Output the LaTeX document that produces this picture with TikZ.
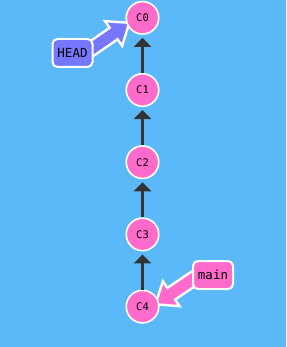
\documentclass[tikz,border=0pt]{standalone}
\usepackage{fontspec}
\setmonofont{DejaVu Sans Mono}
\usepackage{xcolor}
\usepackage{tikz}
\usetikzlibrary{arrows.meta, calc, positioning}

\definecolor{skyback}{HTML}{5CB9F9}
\definecolor{commitpink}{HTML}{FF6BCB}
\definecolor{headblue}{HTML}{7676FF}
\definecolor{linkgray}{HTML}{333333}

\tikzset{
	commit/.style={circle, fill=commitpink, draw=white, line width=1.6pt,
		minimum size=32.5pt, inner sep=0pt, font=\ttfamily\fontsize{10.5}{12}\selectfont},
	refbox/.style={rectangle, rounded corners=5pt, draw=white, line width=2pt,
		minimum width=40pt, minimum height=28pt, inner sep=0pt,
		font=\ttfamily\fontsize{12.5}{14}\selectfont},
	parentlink/.style={draw=linkgray, line width=2.6pt,
		-{Triangle[width=17pt,length=9pt]}, shorten >=3pt},
	refarrow/.style={draw=white, line width=2.4pt, line join=miter, fill=#1}
}

% block arrow of length #1 along the local x axis
\newcommand{\blockarrow}[2]{%
	\draw[refarrow=#2] (0,-7) -- ({#1-19},-7) -- ({#1-19},-15) -- (#1,0)
		-- ({#1-19},15) -- ({#1-19},7) -- (0,7) -- cycle;
}

\begin{document}
\begin{tikzpicture}[x=1pt, y=-1pt]
	\fill[skyback] (0,0) rectangle (286,347);
	\useasboundingbox (0,0) rectangle (286,347);

	% commits
	\foreach \i in {0,...,4}
		\coordinate (p\i) at (142.5,{17.8+72.2*\i});

	% reference arrows, under the boxes and circles
	\begin{scope}[shift={(84,54)}, rotate=34.6]
		\blockarrow{55}{headblue}
	\end{scope}
	\begin{scope}[shift={(199,275)}, rotate=214]
		\blockarrow{52.5}{commitpink}
	\end{scope}

	\foreach \i in {0,...,4}
		\node[commit] (c\i) at (p\i) {C\i};

	\foreach \i [count=\j from 1] in {0,...,3}
		\draw[parentlink] (c\j) -- (c\i);

	\node[refbox, fill=headblue] (head) at (72.5,53) {HEAD};
	\node[refbox, fill=commitpink] (main) at (213,275) {main};
\end{tikzpicture}
\end{document}
